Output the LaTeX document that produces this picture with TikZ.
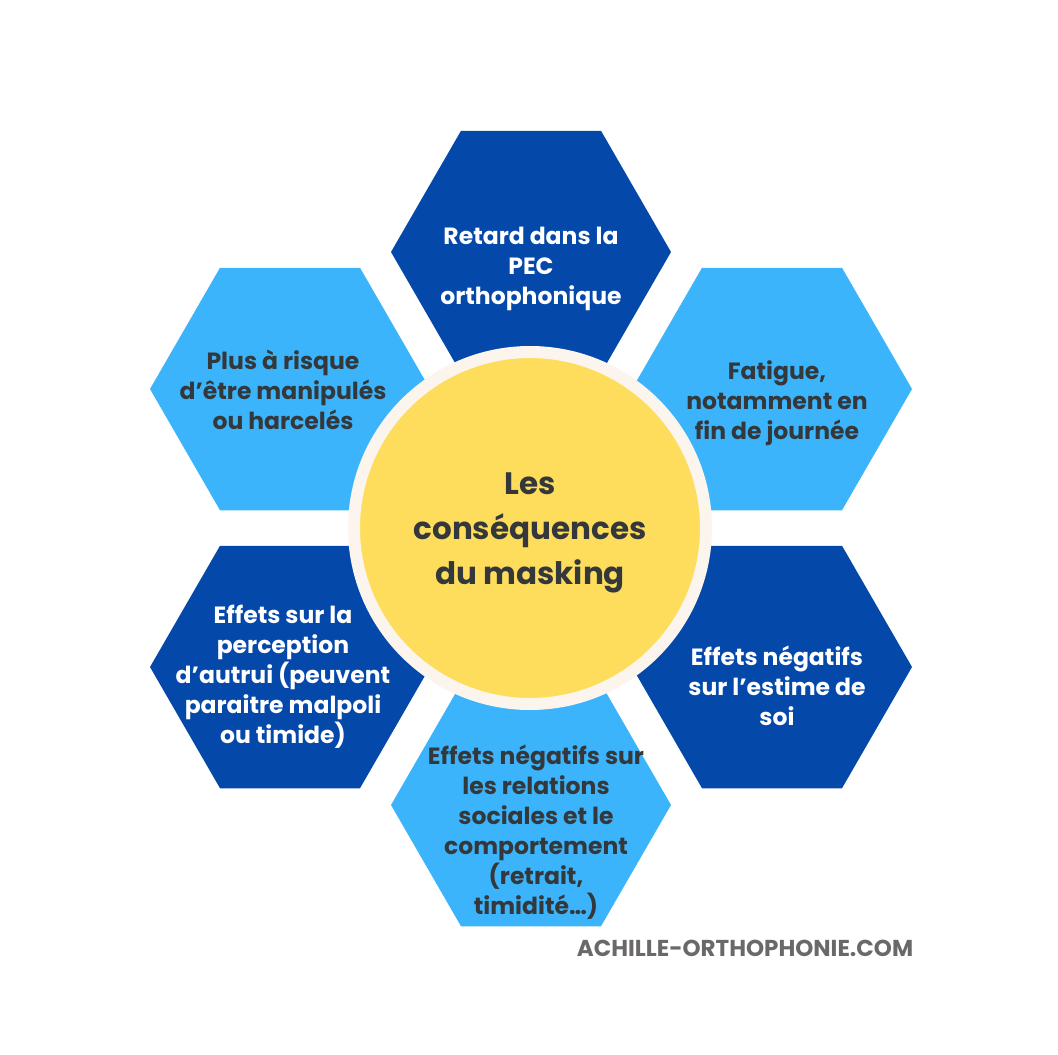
\documentclass[tikz,border=0pt]{standalone}
\usepackage{fontspec}
\setmainfont{Poppins}
\usetikzlibrary{shapes.geometric}

\definecolor{darkblue}{HTML}{0449AA}
\definecolor{lightblue}{HTML}{3CB4FB}
\definecolor{sunyellow}{HTML}{FEDD5D}
\definecolor{creamring}{HTML}{FCF5EE}
\definecolor{inkgray}{HTML}{34383B}
\definecolor{markgray}{HTML}{6B6868}

\tikzset{
	hexbase/.style={regular polygon, regular polygon sides=6, minimum size=280pt, inner sep=0pt},
	hexdark/.style={hexbase, fill=darkblue},
	hexlight/.style={hexbase, fill=lightblue},
	hextext/.style={align=center, font=\bfseries\fontsize{23.5}{30}\selectfont, inner sep=0pt},
	txtwhite/.style={hextext, text=white},
	txtdark/.style={hextext, text=inkgray}
}

\begin{document}
\begin{tikzpicture}[x=1pt, y={(0pt,-1pt)}]
			%\draw[help lines] (0,0) grid[step=100] (1058,1055);
			\fill[white] (0,0) rectangle (1058,1055);
			\useasboundingbox (0,0) rectangle (1058,1055);

			\node[hexdark]  (retard)    at (531,252) {};
			\node[hexlight] (fatigue)   at (772,389) {};
			\node[hexdark]  (estime)    at (772,667) {};
			\node[hexlight] (relations) at (531,805) {};
			\node[hexdark]  (perception) at (290,667) {};
			\node[hexlight] (risque)    at (290,389) {};

			\node[txtwhite] (retardtxt)     at (531,269) {Retard dans la\\PEC\\orthophonique};
			\node[txtdark]  (fatiguetxt)    at (777,403) {Fatigue,\\notamment en\\fin de journée};
			\node[txtwhite] (estimetxt)     at (777,686) {Effets négatifs\\sur l’estime de\\soi};
			\node[txtdark]  (relationstxt)  at (536,832) {Effets négatifs sur\\les relations\\sociales et le\\comportement\\(retrait,\\timidité…)};
			\node[txtwhite] (perceptiontxt) at (283,677) {Effets sur la\\perception\\d’autrui (peuvent\\paraitre malpoli\\ou timide)};
			\node[txtdark]  (risquetxt)     at (283,390) {Plus à risque\\d’être manipulés\\ou harcelés};

			\node[circle, fill=sunyellow, draw=creamring, line width=12pt, minimum size=352pt] (masking) at (530,528) {};
			\node[align=center, text=inkgray, font=\bfseries\fontsize{31}{45}\selectfont] (maskingtxt) at (530,533) {Les\\conséquences\\du masking};

			\node[text=markgray, font=\bfseries\fontsize{23}{26}\selectfont] (site) at (745,948) {ACHILLE-ORTHOPHONIE.COM};
		\end{tikzpicture}
\end{document}
